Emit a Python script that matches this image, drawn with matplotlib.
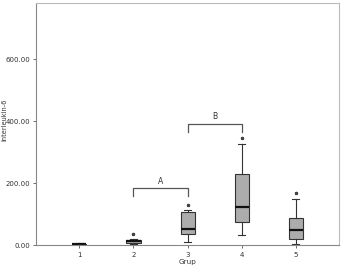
import matplotlib.pyplot as plt
import numpy as np

groups = ['1', '2', '3', '4', '5']
q1 = [0.5, 9, 37, 74, 20]
med = [3, 13, 53, 124, 48]
q3 = [6, 18, 106, 231, 89]
wlo = [0, 4, 11, 34, 6]
whi = [7, 20, 114, 327, 150]
outliers = [[], [38], [130], [347], [169]]

# significance brackets: (from, to, height, tick end, label)
brackets = [(2, 3, 184, 158, 'A'), (3, 4, 392, 367, 'B')]

stats = []
for i in range(len(groups)):
    stats.append(dict(med=med[i], q1=q1[i], q3=q3[i], whislo=wlo[i], whishi=whi[i],
                      fliers=outliers[i], label=groups[i]))

fig = plt.figure(figsize=(3.41, 2.67), dpi=100)
ax = fig.add_axes([0.106, 0.081, 0.888, 0.906])

ax.bxp(stats, positions=np.arange(1, 6), widths=0.26, patch_artist=True,
       boxprops=dict(facecolor='#acacac', edgecolor='#333333', linewidth=0.8),
       medianprops=dict(color='#111111', linewidth=1.6),
       whiskerprops=dict(color='#333333', linewidth=0.8),
       capprops=dict(color='#333333', linewidth=0.8),
       flierprops=dict(marker='*', markersize=2.2, markerfacecolor='#444444',
                       markeredgecolor='#444444', linestyle='none'))

for x0, x1, h, lo, lab in brackets:
    ax.plot([x0, x0, x1, x1], [lo, h, h, lo], color='#555555', linewidth=0.9)
    ax.text((x0 + x1) / 2, h + 8, lab, ha='center', va='bottom', fontsize=5.5, color='#333333')

ax.set_xlim(0.2, 5.8)
ax.set_ylim(0, 780)
ax.set_yticks([0, 200, 400, 600])
ax.set_yticklabels(['0.00', '200.00', '400.00', '600.00'])
ax.set_xticks(np.arange(1, 6))
ax.set_xticklabels(groups)
ax.tick_params(labelsize=5, length=2.5, width=0.6, colors='#555555', labelcolor='#333333', pad=2)
ax.set_xlabel('Grup', fontsize=5.2, color='#333333', labelpad=1)
ax.set_ylabel('Interleukin-6', fontsize=4.8, color='#333333')
ax.yaxis.set_label_coords(-0.096, 0.52)
for s in ax.spines.values():
    s.set_color('#bbbbbb')
    s.set_linewidth(0.8)
ax.spines['left'].set_color('#888888')
ax.spines['bottom'].set_color('#888888')

fig.savefig('out.png', dpi=100)
